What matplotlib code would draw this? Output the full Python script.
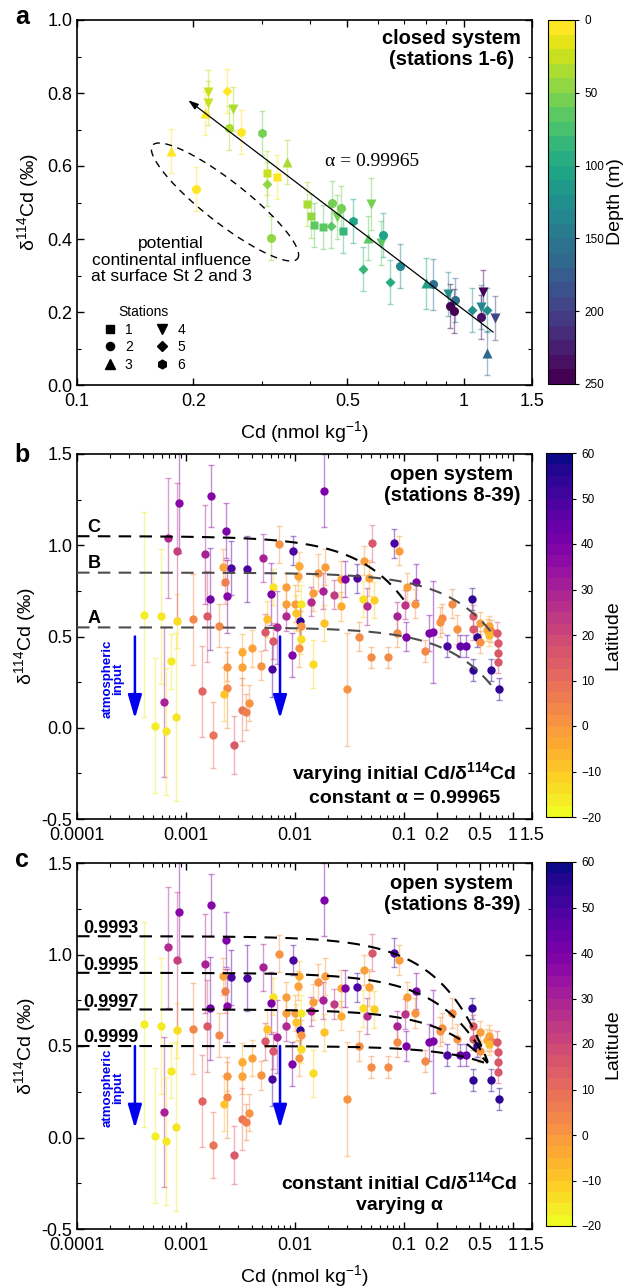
import numpy as np
import matplotlib.pyplot as plt
import matplotlib as mpl
from matplotlib.lines import Line2D
from matplotlib.ticker import FixedLocator, FixedFormatter, LogLocator, MultipleLocator, NullFormatter

plt.rcParams['font.family'] = ['Liberation Sans', 'DejaVu Sans']
plt.rcParams['mathtext.default'] = 'regular'

# ---- panel a: closed system, stations 1-6 ----
a_cd = [0.218, 0.218, 0.244, 0.253, 0.214, 0.247, 0.266, 0.300, 0.175, 0.203,
        0.349, 0.310, 0.329, 0.310, 0.318, 0.393, 0.402, 0.410, 0.432, 0.456,
        0.482, 0.453, 0.469, 0.487, 0.517, 0.576, 0.566, 0.611, 0.619, 0.549,
        0.684, 0.644, 0.799, 0.833, 0.910, 0.950, 0.922, 0.944, 1.05, 1.12,
        1.11, 1.15, 1.11, 1.20, 1.15]
a_d114 = [0.803, 0.773, 0.806, 0.756, 0.745, 0.704, 0.693, 0.690, 0.641, 0.537,
          0.611, 0.581, 0.570, 0.551, 0.403, 0.496, 0.463, 0.438, 0.433, 0.498,
          0.484, 0.436, 0.461, 0.422, 0.449, 0.496, 0.403, 0.389, 0.411, 0.318,
          0.326, 0.282, 0.279, 0.276, 0.249, 0.233, 0.216, 0.203, 0.205, 0.255,
          0.214, 0.205, 0.186, 0.183, 0.088]
a_err = [0.06, 0.06, 0.06, 0.06, 0.06, 0.06, 0.06, 0.06, 0.06, 0.06,
         0.06, 0.06, 0.06, 0.06, 0.06, 0.06, 0.06, 0.06, 0.06, 0.06,
         0.06, 0.06, 0.06, 0.06, 0.06, 0.07, 0.06, 0.06, 0.06, 0.06,
         0.06, 0.06, 0.07, 0.07, 0.06, 0.06, 0.06, 0.06, 0.06, 0.06,
         0.06, 0.06, 0.06, 0.06, 0.06]
a_station = [4, 4, 5, 4, 3, 2, 6, 6, 3, 2,
             3, 1, 1, 5, 2, 1, 1, 1, 1, 2,
             2, 5, 4, 1, 6, 4, 3, 4, 2, 5,
             2, 5, 3, 2, 4, 2, 2, 2, 5, 4,
             4, 5, 2, 4, 3]
a_depth = [25, 25, 5, 30, 5, 30, 5, 50, 5, 5,
           30, 20, 5, 45, 40, 35, 45, 60, 65, 55,
           55, 60, 55, 85, 105, 55, 60, 65, 105, 80,
           135, 90, 100, 155, 125, 150, 250, 240, 120, 240,
           130, 125, 235, 190, 165]
station_markers = {1: 's', 2: 'o', 3: '^', 4: 'v', 5: 'D', 6: 'h'}
station_ms = {1: 6, 2: 6.5, 3: 7.5, 4: 7.5, 5: 5.5, 6: 7}

# Rayleigh (closed system) fit
alpha_closed = 0.99965
closed_cd0, closed_d0, closed_cd_end = 1.19, 0.145, 0.194

# ---- panels b, c: open system, stations 8-39 ----
bc_cd = [4.1e-4, 5.9e-4, 8.3e-4, 6.8e-4, 8.3e-4, 8.6e-4, 1.16e-3, 1.55e-3, 1.5e-3, 1.7e-3,
         2.0e-3, 1.65e-3, 2.2e-3, 2.3e-3, 2.35e-3, 2.4e-3, 2.6e-3, 3.6e-3, 5.1e-3, 7.1e-3,
         9.6e-3, 6.3e-3, 6.0e-3, 5.6e-3, 5.3e-3, 6.3e-3, 6.8e-3, 8.3e-3, 8.3e-3, 8.3e-3,
         1.0e-2, 1.08e-2, 1.06e-2, 1.02e-2, 1.11e-2, 1.14e-2, 1.14e-2, 1.14e-2, 1.46e-2, 1.42e-2,
         1.62e-2, 1.85e-2, 1.8e-2, 1.88e-2, 1.85e-2, 2.27e-2, 2.65e-2, 2.65e-2, 2.9e-2, 3.7e-2,
         4.3e-2, 4.8e-2, 4.2e-2, 5.3e-2, 4.6e-2, 5.1e-2, 8.1e-2, 9.0e-2, 0.107, 0.13,
         0.103, 0.127, 8.6e-2, 8.6e-2, 3.9e-2, 0.105, 0.17, 0.185, 0.224, 0.215,
         0.276, 0.31, 0.25, 0.42, 0.43, 0.43, 0.50, 0.58, 0.61, 0.63,
         0.60, 0.72, 0.73, 0.47, 0.33, 0.37, 9.4e-3, 1.1e-2, 1.46e-2, 3.0e-2,
         5.0e-2, 7.2e-2, 0.156, 0.43, 0.63, 0.75, 0.73, 0.73, 0.50, 7.3e-4,
         6.3e-4, 5.2e-4, 6.5e-4, 8.1e-4, 1.4e-3, 1.77e-3, 2.75e-3, 2.4e-3, 2.4e-3, 2.24e-3,
         3.3e-3, 3.3e-3, 4.0e-3, 3.3e-3, 3.56e-3, 3.8e-3, 4.9e-3, 6.1e-3]
bc_d114 = [0.62, 0.61, 0.585, 1.04, 0.97, 1.23, 0.595, 0.61, 0.95, 1.27,
           0.56, 0.705, 0.88, 0.80, 1.08, 0.72, 0.875, 0.87, 0.93, 1.005,
           0.97, 0.77, 0.735, 0.595, 0.525, 0.475, 0.55, 0.77, 0.68, 0.61,
           0.68, 0.885, 0.83, 0.63, 0.585, 0.68, 0.56, 0.485, 0.74, 0.69,
           0.85, 1.30, 0.75, 0.88, 0.575, 0.73, 0.815, 0.665, 0.815, 0.82,
           0.915, 0.82, 0.705, 0.70, 0.665, 1.01, 1.01, 0.97, 0.77, 0.80,
           0.675, 0.68, 0.61, 0.52, 0.50, 0.50, 0.52, 0.525, 0.60, 0.58,
           0.68, 0.54, 0.45, 0.705, 0.61, 0.54, 0.575, 0.535, 0.555, 0.53,
           0.51, 0.52, 0.465, 0.50, 0.45, 0.45, 0.40, 0.435, 0.35, 0.21,
           0.385, 0.385, 0.42, 0.315, 0.315, 0.21, 0.36, 0.41, 0.47, 0.365,
           0.14, 0.01, -0.02, 0.06, 0.20, -0.04, -0.095, 0.335, 0.22, 0.185,
           0.415, 0.335, 0.435, 0.10, 0.085, 0.135, 0.34, 0.32]
bc_err = [0.56, 0.37, 0.15, 0.33, 0.37, 0.27, 0.25, 0.25, 0.27, 0.17,
          0.12, 0.28, 0.10, 0.12, 0.15, 0.20, 0.15, 0.18, 0.13, 0.10,
          0.08, 0.10, 0.17, 0.10, 0.10, 0.10, 0.20, 0.08, 0.08, 0.08,
          0.10, 0.08, 0.08, 0.10, 0.10, 0.10, 0.08, 0.08, 0.10, 0.08,
          0.10, 0.20, 0.10, 0.10, 0.10, 0.08, 0.10, 0.08, 0.10, 0.08,
          0.08, 0.10, 0.10, 0.10, 0.10, 0.10, 0.08, 0.08, 0.08, 0.10,
          0.08, 0.08, 0.08, 0.08, 0.08, 0.08, 0.10, 0.28, 0.08, 0.08,
          0.08, 0.08, 0.06, 0.06, 0.06, 0.06, 0.06, 0.06, 0.06, 0.06,
          0.06, 0.06, 0.06, 0.06, 0.06, 0.06, 0.12, 0.10, 0.13, 0.31,
          0.06, 0.06, 0.06, 0.06, 0.06, 0.06, 0.06, 0.06, 0.06, 0.15,
          0.41, 0.37, 0.35, 0.46, 0.25, 0.18, 0.16, 0.08, 0.22, 0.15,
          0.10, 0.10, 0.10, 0.17, 0.10, 0.10, 0.08, 0.15]
bc_lat = [-18, -17, -15, 28, 22, 38, 3, 15, 30, 38,
          3, 42, -3, 5, 40, 38, 50, 50, 30, 0,
          50, -16, 40, -10, 15, 15, 30, -2, -2, 28,
          -2, -5, -3, -10, 55, -17, 0, -15, -2, 28,
          0, 40, 30, -2, -10, 23, -5, -5, 40, 50,
          -2, -3, -15, -12, 28, 15, 50, -2, -2, 40,
          25, 0, 30, 2, 2, 40, 40, 40, 2, 0,
          2, 0, 50, 55, 15, 15, -2, -5, -3, 2,
          -8, 15, 15, 55, 45, 45, 40, 0, -15, 0,
          2, 2, 3, 55, 55, 55, 15, 15, 0, -17,
          30, -18, -17, -16, 12, 8, 15, 0, 3, -10,
          -5, -3, -3, 8, 5, 0, 0, 50]

# open-system model curves
b_alpha = 0.99965
b_curves = {'A': (0.70, 0.20), 'B': (0.68, 0.50), 'C': (0.10, 0.70)}
c_alphas = [0.9993, 0.9995, 0.9997, 0.9999]
c_cd0, c_d0 = 0.60, 0.40


def open_model(cd, cd0, d0, alpha):
    return d0 - 1000 * (alpha - 1) * (1 - cd / cd0)


def style_axes(ax):
    ax.tick_params(which='both', direction='in', top=True, right=True, labelsize=13)
    ax.tick_params(which='major', length=5, width=1)
    ax.tick_params(which='minor', length=3, width=0.8)
    ax.tick_params(axis='x', which='both', pad=6)
    for s in ax.spines.values():
        s.set_linewidth(1.2)


def style_cbar(cb, ticks, label):
    cb.set_ticks(ticks)
    cb.ax.tick_params(labelsize=8.5, length=3, width=0.8, direction='out')
    cb.outline.set_linewidth(0.8)
    cb.set_label(label, fontsize=14, labelpad=2)


fig = plt.figure(figsize=(6.23, 12.87), dpi=100)
W, H = 623, 1287
ax_a = fig.add_axes([77 / W, 1 - 385 / H, 455 / W, 365 / H])
cax_a = fig.add_axes([548 / W, 1 - 384 / H, 27 / W, 364 / H])
ax_b = fig.add_axes([77 / W, 1 - 819 / H, 455 / W, 365 / H])
cax_b = fig.add_axes([546 / W, 1 - 817 / H, 26 / W, 364 / H])
ax_c = fig.add_axes([77 / W, 1 - 1229 / H, 455 / W, 366 / H])
cax_c = fig.add_axes([546 / W, 1 - 1226 / H, 26 / W, 364 / H])

# ---------- panel a ----------
depth_cmap = plt.get_cmap('viridis_r').resampled(25)
depth_norm = mpl.colors.Normalize(0, 250)
for x, y, e, st, d in zip(a_cd, a_d114, a_err, a_station, a_depth):
    c = depth_cmap(depth_norm(d))
    ax_a.errorbar(x, y, yerr=e, fmt='none', ecolor=c, alpha=0.45, elinewidth=1, capsize=2.5, zorder=2)
for x, y, st, d in zip(a_cd, a_d114, a_station, a_depth):
    ax_a.plot(x, y, marker=station_markers[st], ms=station_ms[st], color=depth_cmap(depth_norm(d)),
              mec='none', ls='none', zorder=3)

eps = 1000 * (alpha_closed - 1)
d_end = closed_d0 + eps * np.log(closed_cd_end / closed_cd0)
ax_a.annotate('', xy=(closed_cd_end, d_end), xytext=(closed_cd0, closed_d0),
              arrowprops=dict(arrowstyle='-|>,head_length=0.6,head_width=0.2', color='k', lw=0.9,
                              shrinkA=0, shrinkB=0, mutation_scale=10), zorder=4)

ax_a.set_xscale('log')
ax_a.set_xlim(0.1, 1.5)
ax_a.set_ylim(0, 1.0)
ax_a.xaxis.set_major_locator(FixedLocator([0.1, 0.2, 0.5, 1, 1.5]))
ax_a.xaxis.set_major_formatter(FixedFormatter(['0.1', '0.2', '0.5', '1', '1.5']))
ax_a.xaxis.set_minor_locator(LogLocator(base=10, subs=np.arange(1, 10)))
ax_a.xaxis.set_minor_formatter(NullFormatter())
ax_a.yaxis.set_major_locator(MultipleLocator(0.2))
ax_a.yaxis.set_minor_locator(MultipleLocator(0.1))
ax_a.yaxis.set_major_formatter(mpl.ticker.FormatStrFormatter('%.1f'))
style_axes(ax_a)
ax_a.set_xlabel('Cd (nmol kg$^{-1}$)', fontsize=14, labelpad=6)
ax_a.set_ylabel('δ$^{114}$Cd (‰)', fontsize=14, labelpad=4)

ax_a.text(0.976, 0.975, 'closed system\n(stations 1-6)', transform=ax_a.transAxes, ha='right', va='top',
          multialignment='center', fontsize=14.5, fontweight='bold', linespacing=1.15)
ax_a.text(0.648, 0.611, 'α = 0.99965', transform=ax_a.transAxes, ha='center', va='center',
          fontsize=14, family=['Liberation Serif', 'DejaVu Serif'])
ax_a.text(0.207, 0.342, 'potential\ncontinental influence\nat surface St 2 and 3', transform=ax_a.transAxes,
          ha='center', va='center', fontsize=12.5, linespacing=1.1)

# dashed ellipse around the surface samples (drawn in axes pixel space)
pos = ax_a.get_position()
ax_w, ax_h = pos.width * W, pos.height * H
t = np.linspace(0, 2 * np.pi, 300)
th = np.deg2rad(-38)
ea, eb, ecx, ecy = 92, 21, 148, 183
u, v = ea * np.cos(t), eb * np.sin(t)
ex = ecx + u * np.cos(th) - v * np.sin(th)
ey = ecy + u * np.sin(th) + v * np.cos(th)
ax_a.plot(ex / ax_w, ey / ax_h, transform=ax_a.transAxes, color='k', lw=1, ls=(0, (5, 4)))

handles = [Line2D([], [], marker=station_markers[s], color='k', ls='none', ms=station_ms[s] * 0.9)
           for s in range(1, 7)]
leg = ax_a.legend(handles, [str(s) for s in range(1, 7)], title='Stations', ncol=2, frameon=False,
                  fontsize=10, title_fontsize=10, loc='upper left', bbox_to_anchor=(0.035, 0.245),
                  handlelength=1, handletextpad=0.6, columnspacing=1.6, labelspacing=0.25,
                  borderpad=0.2)

cb_a = fig.colorbar(mpl.cm.ScalarMappable(norm=depth_norm, cmap=depth_cmap), cax=cax_a)
cax_a.invert_yaxis()
style_cbar(cb_a, [0, 50, 100, 150, 200, 250], 'Depth (m)')

# ---------- panels b and c ----------
lat_cmap = plt.get_cmap('plasma_r').resampled(32)
lat_cmap_pts = plt.get_cmap('plasma_r')
lat_norm = mpl.colors.Normalize(-20, 60)


def draw_open(ax):
    for x, y, e, la in zip(bc_cd, bc_d114, bc_err, bc_lat):
        c = lat_cmap_pts(lat_norm(la))
        ax.errorbar(x, y, yerr=e, fmt='none', ecolor=c, alpha=0.45, elinewidth=1, capsize=2, zorder=2)
    for x, y, la in zip(bc_cd, bc_d114, bc_lat):
        ax.plot(x, y, 'o', ms=6, color=lat_cmap_pts(lat_norm(la)), mec='none', zorder=3)
    ax.set_xscale('log')
    ax.set_xlim(1e-4, 1.5)
    ax.set_ylim(-0.5, 1.5)
    ax.xaxis.set_major_locator(FixedLocator([1e-4, 1e-3, 1e-2, 0.1, 0.2, 0.5, 1, 1.5]))
    ax.xaxis.set_major_formatter(FixedFormatter(['0.0001', '0.001', '0.01', '0.1', '0.2', '0.5', '1', '1.5']))
    ax.xaxis.set_minor_locator(LogLocator(base=10, subs=np.arange(1, 10), numticks=20))
    ax.xaxis.set_minor_formatter(NullFormatter())
    ax.yaxis.set_major_locator(MultipleLocator(0.5))
    ax.yaxis.set_minor_locator(MultipleLocator(0.25))
    ax.yaxis.set_major_formatter(mpl.ticker.FormatStrFormatter('%.1f'))
    style_axes(ax)
    ax.set_ylabel('δ$^{114}$Cd (‰)', fontsize=14, labelpad=2)
    ax.text(0.974, 0.97, 'open system\n(stations 8-39)', transform=ax.transAxes, ha='right', va='top',
            multialignment='center', fontsize=14.5, fontweight='bold', linespacing=1.15)
    # atmospheric input arrows
    for xa in (3.4e-4, 7.3e-3):
        ax.annotate('', xy=(xa, 0.05), xytext=(xa, 0.5),
                    arrowprops=dict(arrowstyle='-|>,head_length=1.2,head_width=0.35', color='#0000ee',
                                    lw=1.8, shrinkA=0, shrinkB=0, mutation_scale=12), zorder=5)
    ax.text(0.079, 0.385, 'atmospheric\ninput', transform=ax.transAxes, rotation=90, ha='center',
            va='center', color='#0000ee', fontsize=9.5, fontweight='bold', linespacing=0.9)


draw_open(ax_b)
cd_grid = np.logspace(-4, 0, 400)
for name, (cd0, d0) in b_curves.items():
    g = cd_grid[cd_grid <= cd0]
    col = 'k' if name == 'C' else '#4d4d4d'
    ax_b.plot(g, open_model(g, cd0, d0, b_alpha), color=col, lw=1.5, ls=(0, (6, 4)), zorder=4)
for name, yy in zip(['C', 'B', 'A'], [0.80, 0.70, 0.55]):
    ax_b.text(0.037, yy, name, transform=ax_b.transAxes, fontsize=13, fontweight='bold',
              ha='center', va='center')
ax_b.text(0.72, 0.096, 'varying initial Cd/δ$^{114}$Cd\nconstant α = 0.99965', transform=ax_b.transAxes,
          ha='center', va='center', fontsize=14, fontweight='bold', linespacing=1.3)
cb_b = fig.colorbar(mpl.cm.ScalarMappable(norm=lat_norm, cmap=lat_cmap), cax=cax_b)
style_cbar(cb_b, list(range(-20, 61, 10)), 'Latitude')

draw_open(ax_c)
g = cd_grid[cd_grid <= c_cd0]
for al, yy in zip(c_alphas, [0.822, 0.719, 0.620, 0.522]):
    ax_c.plot(g, open_model(g, c_cd0, c_d0, al), color='k', lw=1.5, ls=(0, (6, 4)), zorder=4)
    ax_c.text(0.013, yy, f'{al:.4f}', transform=ax_c.transAxes, fontsize=13, fontweight='bold',
              ha='left', va='center')
ax_c.text(0.708, 0.10, 'constant initial Cd/δ$^{114}$Cd\nvarying α', transform=ax_c.transAxes,
          ha='center', va='center', fontsize=14, fontweight='bold', linespacing=1.3)
ax_c.set_xlabel('Cd (nmol kg$^{-1}$)', fontsize=14, labelpad=6)
cb_c = fig.colorbar(mpl.cm.ScalarMappable(norm=lat_norm, cmap=lat_cmap), cax=cax_c)
style_cbar(cb_c, list(range(-20, 61, 10)), 'Latitude')

for lab, yy in zip('abc', [17, 455, 860]):
    fig.text(0.035, 1 - yy / H, lab, fontsize=18, fontweight='bold', ha='center', va='center')

fig.savefig('out.png', dpi=100)
